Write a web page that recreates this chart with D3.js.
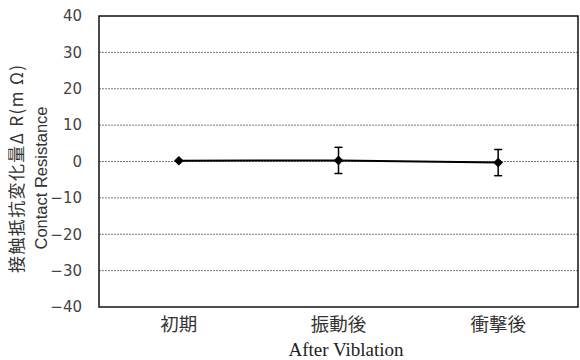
<!DOCTYPE html>
<html>
<head>
<meta charset="utf-8">
<script src="https://cdn.jsdelivr.net/npm/d3@7"></script>
<style>
  body { margin: 0; background: #fff; }
</style>
</head>
<body>
<div id="chart"></div>
<script>
// data
const categories = ["初期", "振動後", "衝撃後"];
const values = [0.2, 0.3, -0.3];
const errors = [0, 3.6, 3.6];
const yTicks = [-40, -30, -20, -10, 0, 10, 20, 30, 40];

const W = 580, H = 360;
const margin = { top: 16, right: 2, bottom: 53, left: 99 };
const width = W - margin.left - margin.right;
const height = H - margin.top - margin.bottom;

const svg = d3.select("#chart").append("svg")
  .attr("width", W).attr("height", H);
const g = svg.append("g")
  .attr("transform", `translate(${margin.left},${margin.top})`);

const x = d3.scaleBand().domain(categories).range([0, width]);
const y = d3.scaleLinear().domain([-40, 40]).range([height, 0]);

// gridlines
g.selectAll("line.grid")
  .data(yTicks.filter(d => d !== 40 && d !== -40))
  .enter().append("line")
    .attr("class", "grid")
    .attr("x1", 0).attr("x2", width)
    .attr("y1", d => y(d)).attr("y2", d => y(d))
    .attr("stroke", "#777")
    .attr("stroke-width", 1)
    .attr("stroke-dasharray", "2,1");

// y axis ticks
const yAxis = g.append("g")
  .call(d3.axisLeft(y).tickValues(yTicks).tickSize(0).tickPadding(17)
    .tickFormat(d => d < 0 ? "\u2212" + Math.abs(d) : d));
yAxis.select(".domain").remove();
yAxis.selectAll("text")
  .attr("font-family", "'DejaVu Sans', sans-serif")
  .attr("font-size", 15)
  .attr("fill", "#444");

// x axis labels
const xAxis = g.append("g")
  .attr("transform", `translate(0,${height})`)
  .call(d3.axisBottom(x).tickSize(0).tickPadding(11));
xAxis.select(".domain").remove();
xAxis.selectAll("text")
  .attr("font-family", "'Noto Sans CJK JP', sans-serif")
  .attr("font-size", 18.5)
  .attr("fill", "#333");

// frame
g.append("rect")
  .attr("x", 0).attr("y", 0)
  .attr("width", width).attr("height", height)
  .attr("fill", "none")
  .attr("stroke", "#111")
  .attr("stroke-width", 1.5);

const cx = d => x(d) + x.bandwidth() / 2;
const pts = categories.map((c, i) => ({ c, v: values[i], e: errors[i] }));

// line
g.append("path")
  .datum(pts)
  .attr("fill", "none")
  .attr("stroke", "#000")
  .attr("stroke-width", 2)
  .attr("d", d3.line().x(d => cx(d.c)).y(d => y(d.v)));

// error bars
const eb = g.selectAll("g.err").data(pts.filter(d => d.e > 0)).enter().append("g");
eb.append("line")
  .attr("x1", d => cx(d.c)).attr("x2", d => cx(d.c))
  .attr("y1", d => y(d.v + d.e)).attr("y2", d => y(d.v - d.e))
  .attr("stroke", "#000").attr("stroke-width", 1.5);
eb.selectAll("line.cap")
  .data(d => [d.v + d.e, d.v - d.e].map(v => ({ c: d.c, v })))
  .enter().append("line")
    .attr("x1", d => cx(d.c) - 4).attr("x2", d => cx(d.c) + 4)
    .attr("y1", d => y(d.v)).attr("y2", d => y(d.v))
    .attr("stroke", "#000").attr("stroke-width", 1.5);

// markers
g.selectAll("path.mk")
  .data(pts)
  .enter().append("path")
    .attr("transform", d => `translate(${cx(d.c)},${y(d.v)})`)
    .attr("d", d3.symbol().type(d3.symbolDiamond2).size(60))
    .attr("fill", "#000");

// axis titles
svg.append("text")
  .attr("x", 346)
  .attr("y", 356)
  .attr("text-anchor", "middle")
  .attr("font-family", "'Liberation Serif', serif")
  .attr("font-size", 19)
  .attr("fill", "#222")
  .text("After Viblation");

svg.append("text")
  .attr("transform", "translate(23,169) rotate(-90)")
  .attr("text-anchor", "middle")
  .attr("font-family", "'Noto Sans CJK JP', sans-serif")
  .attr("font-size", 17)
  .attr("fill", "#333")
  .attr("textLength", 208)
  .attr("lengthAdjust", "spacing")
  .text("接触抵抗変化量Δ R(m Ω)");

svg.append("text")
  .attr("transform", "translate(47,178) rotate(-90)")
  .attr("text-anchor", "middle")
  .attr("font-family", "'Liberation Sans', sans-serif")
  .attr("font-size", 16.5)
  .attr("fill", "#333")
  .text("Contact Resistance");
</script>
</body>
</html>
